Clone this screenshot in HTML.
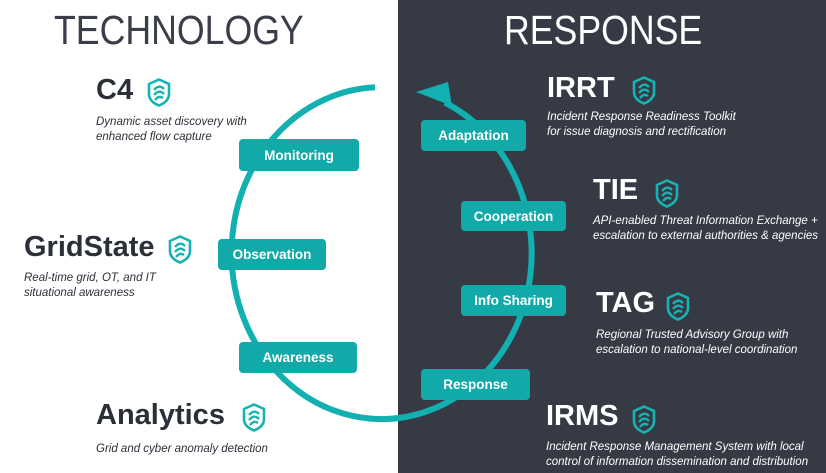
<!DOCTYPE html>
<html><head><meta charset="utf-8"><style>
*{margin:0;padding:0;box-sizing:border-box}
body{width:826px;height:473px;position:relative;overflow:hidden;background:#fff;font-family:"Liberation Sans",sans-serif}
#dark{position:absolute;left:398px;top:0;width:428px;height:473px;background:#363a45}
.h{position:absolute;top:10px;font-size:41px;line-height:41px;font-weight:normal;transform:scaleX(0.87);transform-origin:left top}
.t{position:absolute;font-size:29px;font-weight:bold;line-height:30px}
.d{position:absolute;font-size:11.5px;font-style:italic;line-height:15px;white-space:nowrap}
.L{color:#2b2f38}.R{color:#fff}
.b{position:absolute;background:#12a9a9;color:#fff;font-weight:bold;font-size:13.5px;border-radius:4px;display:flex;align-items:center;justify-content:center}
.i{position:absolute;width:24px;height:29px}
</style></head><body>
<div id="dark"></div>
<div class="h L" style="left:54px;color:#3a3e48">TECHNOLOGY</div>
<div class="h R" style="left:504px">RESPONSE</div>
<svg style="position:absolute;left:0;top:0" width="826" height="473">
<path d="M445,102.6 A150 166 0 1 1 375,87.2" fill="none" stroke="#12b0b0" stroke-width="6"/>
<polygon points="416,92 448,82 452,106" fill="#12b0b0"/>
</svg>
<div class="b" style="left:239px;top:139px;width:120px;height:32px">Monitoring</div>
<div class="b" style="left:421px;top:120px;width:105px;height:31px">Adaptation</div>
<div class="b" style="left:461px;top:201px;width:105px;height:30px">Cooperation</div>
<div class="b" style="left:218px;top:239px;width:108px;height:31px">Observation</div>
<div class="b" style="left:461px;top:285px;width:105px;height:31px">Info Sharing</div>
<div class="b" style="left:239px;top:342px;width:118px;height:31px">Awareness</div>
<div class="b" style="left:421px;top:369px;width:109px;height:31px">Response</div>

<div class="t L" style="left:96px;top:75px">C4</div>
<div class="d L" style="left:96px;top:115px">Dynamic asset discovery with<br>enhanced flow capture</div>
<div class="t L" style="left:24px;top:232px">GridState</div>
<div class="d L" style="left:24px;top:271px">Real-time grid, OT, and IT<br>situational awareness</div>
<div class="t L" style="left:96px;top:400px">Analytics</div>
<div class="d L" style="left:96px;top:442px">Grid and cyber anomaly detection</div>

<div class="t R" style="left:547px;top:73px">IRRT</div>
<div class="d R" style="left:547px;top:110px">Incident Response Readiness Toolkit<br>for issue diagnosis and rectification</div>
<div class="t R" style="left:593px;top:175px">TIE</div>
<div class="d R" style="left:593px;top:214px">API-enabled Threat Information Exchange +<br>escalation to external authorities &amp; agencies</div>
<div class="t R" style="left:596px;top:288px">TAG</div>
<div class="d R" style="left:596px;top:328px">Regional Trusted Advisory Group with<br>escalation to national-level coordination</div>
<div class="t R" style="left:546px;top:401px">IRMS</div>
<div class="d R" style="left:546px;top:440px">Incident Response Management System with local<br>control of information dissemination and distribution</div>

<svg class="i" style="left:147px;top:78px" viewBox="0 0 24 29"><path d="M2,6 L12,1.5 L22,6 L22,16 Q22,23.5 12,27.5 Q2,23.5 2,16 Z" fill="none" stroke="#17b3b3" stroke-width="2.6"/><path d="M7,12 Q12,6 17,11 M7,17 Q12,11 17,16 M8,22 Q12,17 16,20" fill="none" stroke="#17b3b3" stroke-width="2.4"/></svg>
<svg class="i" style="left:168px;top:235px" viewBox="0 0 24 29"><path d="M2,6 L12,1.5 L22,6 L22,16 Q22,23.5 12,27.5 Q2,23.5 2,16 Z" fill="none" stroke="#17b3b3" stroke-width="2.6"/><path d="M7,12 Q12,6 17,11 M7,17 Q12,11 17,16 M8,22 Q12,17 16,20" fill="none" stroke="#17b3b3" stroke-width="2.4"/></svg>
<svg class="i" style="left:242px;top:403px" viewBox="0 0 24 29"><path d="M2,6 L12,1.5 L22,6 L22,16 Q22,23.5 12,27.5 Q2,23.5 2,16 Z" fill="none" stroke="#17b3b3" stroke-width="2.6"/><path d="M7,12 Q12,6 17,11 M7,17 Q12,11 17,16 M8,22 Q12,17 16,20" fill="none" stroke="#17b3b3" stroke-width="2.4"/></svg>
<svg class="i" style="left:632px;top:76px" viewBox="0 0 24 29"><path d="M2,6 L12,1.5 L22,6 L22,16 Q22,23.5 12,27.5 Q2,23.5 2,16 Z" fill="none" stroke="#17b3b3" stroke-width="2.6"/><path d="M7,12 Q12,6 17,11 M7,17 Q12,11 17,16 M8,22 Q12,17 16,20" fill="none" stroke="#17b3b3" stroke-width="2.4"/></svg>
<svg class="i" style="left:655px;top:179px" viewBox="0 0 24 29"><path d="M2,6 L12,1.5 L22,6 L22,16 Q22,23.5 12,27.5 Q2,23.5 2,16 Z" fill="none" stroke="#17b3b3" stroke-width="2.6"/><path d="M7,12 Q12,6 17,11 M7,17 Q12,11 17,16 M8,22 Q12,17 16,20" fill="none" stroke="#17b3b3" stroke-width="2.4"/></svg>
<svg class="i" style="left:666px;top:292px" viewBox="0 0 24 29"><path d="M2,6 L12,1.5 L22,6 L22,16 Q22,23.5 12,27.5 Q2,23.5 2,16 Z" fill="none" stroke="#17b3b3" stroke-width="2.6"/><path d="M7,12 Q12,6 17,11 M7,17 Q12,11 17,16 M8,22 Q12,17 16,20" fill="none" stroke="#17b3b3" stroke-width="2.4"/></svg>
<svg class="i" style="left:632px;top:405px" viewBox="0 0 24 29"><path d="M2,6 L12,1.5 L22,6 L22,16 Q22,23.5 12,27.5 Q2,23.5 2,16 Z" fill="none" stroke="#17b3b3" stroke-width="2.6"/><path d="M7,12 Q12,6 17,11 M7,17 Q12,11 17,16 M8,22 Q12,17 16,20" fill="none" stroke="#17b3b3" stroke-width="2.4"/></svg>
</body></html>
